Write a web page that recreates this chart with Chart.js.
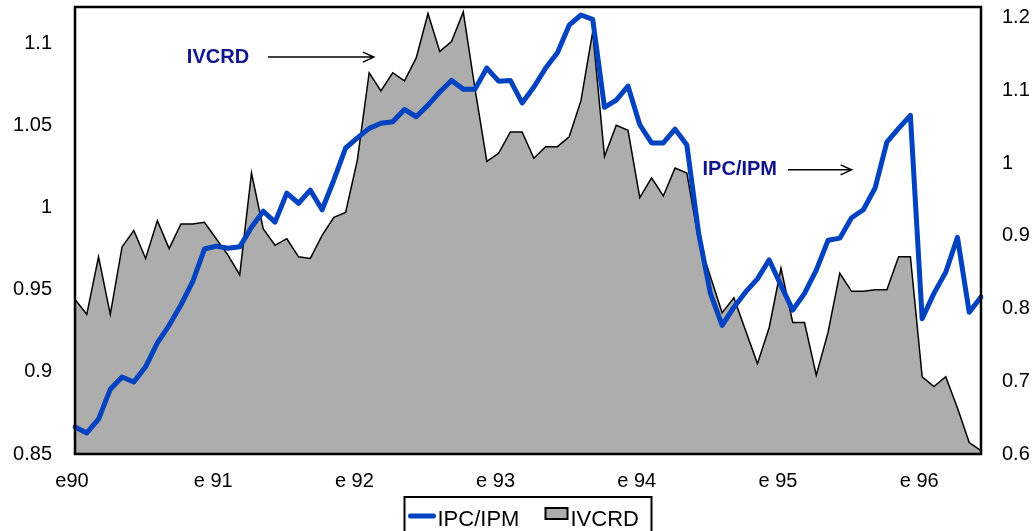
<!DOCTYPE html>
<html>
<head>
<meta charset="utf-8">
<title>IPC/IPM - IVCRD</title>
<script src="https://cdn.jsdelivr.net/npm/chart.js@4.4.1/dist/chart.umd.min.js"></script>
<style>
  html, body { margin: 0; padding: 0; background: #ffffff; }
  #wrap { width: 1034px; height: 531px; }
</style>
</head>
<body>
<div id="wrap"><canvas id="ratioChart" width="1034" height="531"></canvas></div>
<script>
// Years shown on the x axis (one category per month, Jan 90 .. Jun 96)
const years = [1990, 1991, 1992, 1993, 1994, 1995, 1996];
const monthNames = ['Jan', 'Feb', 'Mar', 'Apr', 'May', 'Jun',
                    'Jul', 'Aug', 'Sep', 'Oct', 'Nov', 'Dec'];
const yearTickLabels = ['e90', 'e 91', 'e 92', 'e 93', 'e 94', 'e 95', 'e 96'];
const monthCount = 78;

// Left axis series (grey area)
const ivcrdValues = [
  0.944, 0.935, 0.970, 0.935, 0.976, 0.986, 0.969, 0.992, 0.975, 0.990, 0.990, 0.991,
  0.981, 0.971, 0.959, 1.021, 0.987, 0.977, 0.981, 0.970, 0.969, 0.983, 0.994, 0.997,
  1.029, 1.082, 1.071, 1.082, 1.077, 1.091, 1.118, 1.095, 1.101, 1.119, 1.072, 1.028,
  1.033, 1.046, 1.046, 1.030, 1.037, 1.037, 1.043, 1.065, 1.107, 1.031, 1.050, 1.047,
  1.006, 1.018, 1.007, 1.024, 1.021, 0.980, 0.958, 0.936, 0.945, 0.925, 0.905, 0.927,
  0.963, 0.930, 0.930, 0.898, 0.924, 0.960, 0.949, 0.949, 0.950, 0.950, 0.970, 0.970,
  0.897, 0.891, 0.897, 0.878, 0.857, 0.852
];

// Right axis series (blue line)
const ipcIpmValues = [
  0.637, 0.629, 0.648, 0.689, 0.706, 0.699, 0.720, 0.753, 0.777, 0.805, 0.837, 0.882,
  0.886, 0.883, 0.885, 0.912, 0.934, 0.919, 0.959, 0.945, 0.963, 0.936, 0.977, 1.021,
  1.035, 1.048, 1.055, 1.057, 1.074, 1.064, 1.080, 1.098, 1.114, 1.102, 1.102, 1.131,
  1.113, 1.114, 1.083, 1.105, 1.131, 1.152, 1.190, 1.204, 1.198, 1.077, 1.087, 1.106,
  1.053, 1.028, 1.028, 1.047, 1.025, 0.904, 0.821, 0.777, 0.802, 0.823, 0.841, 0.867,
  0.832, 0.798, 0.821, 0.853, 0.894, 0.897, 0.925, 0.936, 0.966, 1.029, 1.048, 1.066,
  0.786, 0.821, 0.850, 0.898, 0.795, 0.816
];

// Axis ranges
const leftAxis = { min: 0.85, max: 1.122, step: 0.05 };
const rightAxis = { min: 0.6, max: 1.215, step: 0.1 };

// In-chart labels with arrows, anchored in data coordinates (x = month index)
const callouts = [
  { text: 'IVCRD', axis: 'y', x: 12.15, y: 1.0915, arrowFrom: 16.4, arrowTo: 25.4 },
  { text: 'IPC/IPM', axis: 'y1', x: 56.5, y: 0.991, arrowFrom: 60.6, arrowTo: 66.0 }
];

const FONT = "'Liberation Sans', Arial, Helvetica, sans-serif";
const IPC_BLUE = '#0042c0';
const AREA_GREY = '#adadad';
const CALLOUT_NAVY = '#10148c';

class RatioChartSection {
  constructor() {
    this.chartInstance = null;
  }

  initialize() {
    const canvas = document.getElementById('ratioChart');
    if (!canvas) return;
    this.chartInstance = new Chart(canvas.getContext('2d'), this.getChartConfig());
  }

  generateLabels() {
    return years.flatMap(y => monthNames.map(m => `${m} ${y}`)).slice(0, monthCount);
  }

  formatTick(v) {
    return String(Number(v.toFixed(2)));
  }

  /**
   * Force a fixed box size and drop the label padding Chart.js adds
   */
  fixBox(scale, size) {
    if (scale.isHorizontal()) scale.height = size;
    else scale.width = size;
    scale.paddingTop = 0;
    scale.paddingBottom = 0;
    scale.paddingLeft = 0;
    scale.paddingRight = 0;
  }

  getChartConfig() {
    return {
      type: 'line',
      data: {
        labels: this.generateLabels(),
        datasets: [
          {
            label: 'IPC/IPM',
            data: ipcIpmValues,
            yAxisID: 'y1',
            borderColor: IPC_BLUE,
            backgroundColor: IPC_BLUE,
            borderWidth: 5,
            borderJoinStyle: 'round',
            borderCapStyle: 'round',
            pointRadius: 0,
            tension: 0,
            fill: false,
            order: 0
          },
          {
            label: 'IVCRD',
            data: ivcrdValues,
            yAxisID: 'y',
            borderColor: '#000000',
            backgroundColor: AREA_GREY,
            borderWidth: 1.5,
            pointRadius: 0,
            tension: 0,
            fill: 'start',
            order: 1
          }
        ]
      },
      options: {
        responsive: false,
        animation: false,
        events: [],
        layout: { padding: { top: 7, left: 0, right: 0, bottom: 0 } },
        plugins: {
          legend: { display: false },
          tooltip: { enabled: false }
        },
        scales: {
          x: {
            type: 'category',
            offset: false,
            grid: { display: false, drawTicks: false },
            border: { display: false },
            afterFit: scale => this.fixBox(scale, 77),
            ticks: {
              autoSkip: false,
              maxRotation: 0,
              padding: 15,
              labelOffset: -3,
              color: '#000000',
              font: { family: FONT, size: 20 },
              callback: (value, index) => index % 12 === 0 ? yearTickLabels[index / 12] : ''
            }
          },
          y: {
            position: 'left',
            min: leftAxis.min,
            max: leftAxis.max,
            grid: { display: false, drawTicks: false },
            border: { display: false },
            afterFit: scale => this.fixBox(scale, 75),
            ticks: {
              stepSize: leftAxis.step,
              includeBounds: false,
              padding: 23,
              color: '#000000',
              font: { family: FONT, size: 20 },
              callback: v => this.formatTick(v)
            }
          },
          y1: {
            position: 'right',
            min: rightAxis.min,
            max: rightAxis.max,
            grid: { display: false, drawTicks: false },
            border: { display: false },
            afterFit: scale => this.fixBox(scale, 53),
            ticks: {
              stepSize: rightAxis.step,
              includeBounds: false,
              padding: 21,
              color: '#000000',
              font: { family: FONT, size: 20 },
              callback: v => this.formatTick(v)
            }
          }
        }
      },
      plugins: [this.getDecorPlugin()]
    };
  }

  /**
   * Frame, callouts with arrows and the boxed legend under the axis
   */
  getDecorPlugin() {
    return {
      id: 'decor',
      afterDatasetsDraw: chart => {
        const { ctx, chartArea } = chart;
        ctx.save();
        ctx.strokeStyle = '#000000';
        ctx.lineWidth = 2.5;
        ctx.strokeRect(chartArea.left, chartArea.top,
          chartArea.right - chartArea.left, chartArea.bottom - chartArea.top);
        ctx.restore();
        this.drawCallouts(chart);
        this.drawLegend(chart);
      }
    };
  }

  drawCallouts(chart) {
    const { ctx, scales } = chart;
    ctx.save();
    callouts.forEach(c => {
      const x = scales.x.getPixelForValue(c.x);
      const y = scales[c.axis].getPixelForValue(c.y);
      ctx.fillStyle = CALLOUT_NAVY;
      ctx.font = `bold 20px ${FONT}`;
      ctx.textAlign = 'center';
      ctx.textBaseline = 'middle';
      ctx.fillText(c.text, x, y);

      const x0 = scales.x.getPixelForValue(c.arrowFrom);
      const x1 = scales.x.getPixelForValue(c.arrowTo);
      ctx.strokeStyle = '#000000';
      ctx.lineWidth = 1.5;
      ctx.beginPath();
      ctx.moveTo(x0, y);
      ctx.lineTo(x1, y);
      ctx.moveTo(x1 - 11, y - 5);
      ctx.lineTo(x1, y);
      ctx.lineTo(x1 - 11, y + 5);
      ctx.stroke();
    });
    ctx.restore();
  }

  drawLegend(chart) {
    const { ctx, chartArea } = chart;
    const [lineSet, areaSet] = chart.data.datasets;
    const boxW = 247;
    const left = (chartArea.left + chartArea.right) / 2 - boxW / 2;
    const top = 497;
    ctx.save();
    ctx.strokeStyle = '#000000';
    ctx.lineWidth = 2;
    ctx.strokeRect(left, top, boxW, 50);

    ctx.font = `22px ${FONT}`;
    ctx.textAlign = 'left';
    ctx.textBaseline = 'alphabetic';
    ctx.fillStyle = '#000000';

    // line sample
    ctx.strokeStyle = lineSet.borderColor;
    ctx.lineWidth = 5;
    ctx.lineCap = 'round';
    ctx.beginPath();
    ctx.moveTo(left + 6, top + 19);
    ctx.lineTo(left + 29, top + 19);
    ctx.stroke();
    ctx.fillText(lineSet.label, left + 33, top + 29);

    // area swatch
    ctx.fillStyle = areaSet.backgroundColor;
    ctx.fillRect(left + 141, top + 11, 22, 11);
    ctx.strokeStyle = '#000000';
    ctx.lineWidth = 2;
    ctx.lineCap = 'butt';
    ctx.strokeRect(left + 141, top + 11, 22, 11);
    ctx.fillStyle = '#000000';
    ctx.fillText(areaSet.label, left + 166, top + 29);
    ctx.restore();
  }
}

const ratioSection = new RatioChartSection();
ratioSection.initialize();
</script>
</body>
</html>
